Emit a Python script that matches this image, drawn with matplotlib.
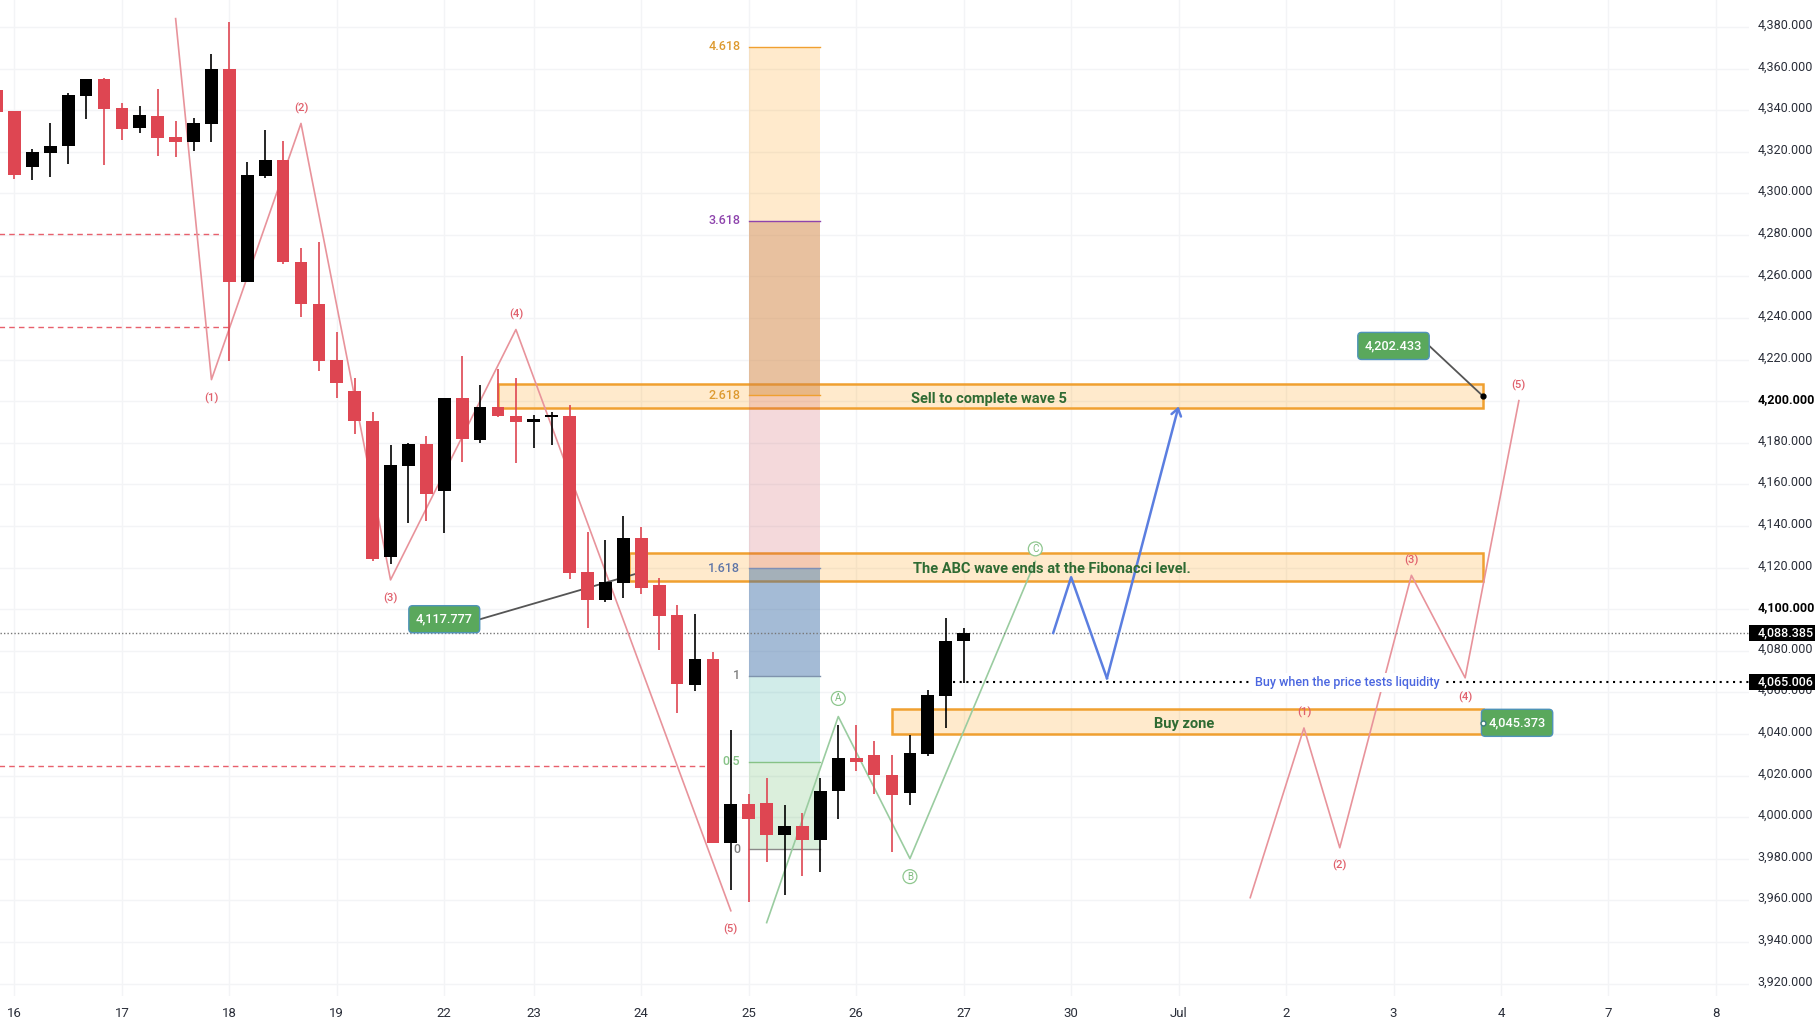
import matplotlib
matplotlib.use('Agg')
import matplotlib.pyplot as plt
from matplotlib.patches import Rectangle
from matplotlib.transforms import ScaledTranslation

plt.rcParams['font.family'] = ['Roboto', 'DejaVu Sans']

# candles, 4h bars (bar 0 is cut by the left edge)
opens = [4349.7, 4339.4, 4312.6, 4319.4, 4322.7, 4346.6, 4354.8, 4340.8, 4331.4, 4337.0,
         4326.9, 4324.6, 4333.3, 4359.6, 4257.3, 4308.3, 4315.8, 4267.2, 4247.0, 4219.7,
         4204.7, 4190.7, 4125.2, 4168.9, 4179.3, 4157.0, 4201.5, 4181.4, 4197.4, 4193.1,
         4190.1, 4192.5, 4193.1, 4118.0, 4104.5, 4112.7, 4134.1, 4111.7, 4097.3, 4063.6,
         4076.1, 3987.6, 4006.5, 4007.0, 3991.5, 3995.9, 3989.1, 4012.5, 4028.7, 4030.1,
         4020.5, 4011.5, 4030.6, 4058.5, 4084.5]
highs = [4351.0, 4339.4, 4321.1, 4333.6, 4348.4, 4355.1, 4355.3, 4343.3, 4341.8, 4350.0,
         4334.6, 4336.0, 4366.8, 4382.6, 4315.2, 4330.3, 4325.0, 4273.6, 4276.7, 4233.2,
         4211.1, 4194.7, 4179.0, 4180.0, 4183.2, 4201.5, 4221.7, 4207.7, 4215.3, 4211.1,
         4193.6, 4195.0, 4198.4, 4136.9, 4133.2, 4144.7, 4139.3, 4114.9, 4102.1, 4097.8,
         4079.2, 4042.1, 4011.3, 4018.7, 4005.7, 4002.1, 4019.0, 4044.1, 4044.1, 4036.4,
         4030.0, 4039.6, 4061.2, 4095.8, 4091.0]
lows = [4339.1, 4306.7, 4306.4, 4307.8, 4314.1, 4335.6, 4313.6, 4325.6, 4328.8, 4317.9,
        4317.3, 4320.2, 4324.6, 4219.3, 4257.3, 4307.3, 4266.1, 4240.4, 4214.5, 4201.6,
        4184.3, 4123.0, 4121.6, 4141.7, 4142.2, 4136.6, 4170.7, 4180.0, 4192.5, 4170.3,
        4177.6, 4178.8, 4114.4, 4091.0, 4103.5, 4105.3, 4107.2, 4080.4, 4050.3, 4060.7,
        3987.6, 3965.0, 3959.3, 3978.3, 3962.6, 3971.8, 3973.7, 3998.9, 4022.1, 4011.3,
        3983.3, 4005.7, 4029.6, 4043.1, 4064.6]
closes = [4339.1, 4308.8, 4319.7, 4322.6, 4347.1, 4354.8, 4340.5, 4330.9, 4337.5, 4326.6,
          4324.6, 4333.6, 4359.6, 4257.3, 4308.6, 4315.8, 4266.9, 4246.9, 4219.3, 4208.8,
          4190.6, 4124.3, 4169.2, 4179.3, 4155.6, 4201.5, 4181.9, 4197.4, 4192.8, 4190.1,
          4191.7, 4193.6, 4117.6, 4104.5, 4113.1, 4134.1, 4110.3, 4096.8, 4064.1, 4076.1,
          3987.6, 4006.5, 3998.9, 3991.5, 3995.9, 3989.1, 4012.8, 4028.7, 4026.3, 4020.2,
          4010.9, 4031.1, 4058.8, 4084.8, 4088.385]

# axis labels
price_ticks = list(range(3920, 4381, 20))
day_bars = [1, 7, 13, 19, 25, 30, 36, 42, 48, 54, 60, 66, 72, 78, 84, 90, 96]
day_labels = ['16', '17', '18', '19', '22', '23', '24', '25', '26', '27', '30', 'Jul', '2', '3', '4', '7', '8']

# wave drawings (bar, price)
impulse_down_x = [10, 12, 17, 22, 29, 41]
impulse_down_y = [4384.0, 4210.4, 4333.6, 4114.1, 4234.5, 3955.0]
abc_x = [43, 47, 51, 58]
abc_y = [3949.3, 4048.4, 3980.1, 4123.0]
impulse_up_x = [70, 73, 75, 79, 82, 85]
impulse_up_y = [3961.3, 4042.9, 3985.3, 4116.3, 4067.0, 4200.3]
path_x = [59, 60, 62, 66]
path_y = [4088.6, 4115.4, 4066.8, 4197.5]

# fibonacci levels
fib_ratios = ['0', '0.5', '1', '1.618', '2.618', '3.618', '4.618']
fib_prices = [3984.7, 4026.6, 4067.9, 4119.8, 4203.0, 4286.8, 4370.5]

# old lows left as dashed lines
dashed_prices = [4280.5, 4235.8, 4024.7]
dashed_ends = [13, 13, 40]

last_price = 4088.385
liquidity_price = 4065.006

RED = '#de4652'
WAVE_RED = '#e8939b'
WAVE_GREEN = '#9accA0'
ZONE_EDGE = '#f0a030'
TEXT_GREEN = '#2f6b33'

fig = plt.figure(figsize=(18.2, 10.24), dpi=100)
ax = fig.add_axes([0, 24 / 882, 1507 / 1568, 858 / 882])
ax.set_xlim(0.194, 97.86)
ax.set_ylim(3913.95, 4392.95)
for s in ax.spines.values():
    s.set_visible(False)

ax.yaxis.tick_right()
ax.set_yticks(price_ticks)
ax.set_yticklabels([f'{p:,.3f}' for p in price_ticks])
ax.set_xticks(day_bars)
ax.set_xticklabels(day_labels)
ax.tick_params(axis='y', length=0, pad=6, labelsize=9, labelcolor='#2a2e39')
ax.tick_params(axis='x', length=0, pad=8, labelsize=9.5, labelcolor='#2a2e39')
ax.grid(True, color='#f3f4f6', linewidth=1)
ax.set_axisbelow(True)
# price labels sit a little above their grid lines in the reference
lift = ScaledTranslation(0, 2.3 / 72, fig.dpi_scale_trans)
for lab, p in zip(ax.get_yticklabels(), price_ticks):
    lab.set_transform(lab.get_transform() + lift)
    if p in (4100, 4200):
        lab.set_fontweight('bold')
        lab.set_color('black')

# fib box
fib_fills = [('#4caf50', 0.2), ('#009688', 0.18), ('#376aa4', 0.45),
             ('#c8454e', 0.2), ('#d38541', 0.5), ('#ff9800', 0.2)]
fib_lines = ['#8a8a8a', '#86c286', '#7f93ad', '#7f8fb5', '#f0a030', '#8e44ad', '#f0a030']
fib_text = ['#808080', '#86c286', '#808080', '#5f76a8', '#dd9a30', '#8e44ad', '#dd9a30']
for j in range(6):
    c, a = fib_fills[j]
    ax.fill_between([42, 46], fib_prices[j], fib_prices[j + 1], color=c, alpha=a, lw=0, zorder=2.5)
for j, (r, p) in enumerate(zip(fib_ratios, fib_prices)):
    ax.plot([42, 46], [p, p], color=fib_lines[j], lw=1, zorder=2.6)
    ax.annotate(r, (42, p), xytext=(-6, 0), textcoords='offset points', ha='right', va='center',
                color=fib_text[j], fontsize=9, fontweight='medium', zorder=2.7)

# zones
zones = [(28, 83, 4196.8, 4208.2), (35.3, 83, 4113.6, 4127.2), (50, 83, 4039.8, 4051.8)]
for x0, x1, y0, y1 in zones:
    ax.add_patch(Rectangle((x0, y0), x1 - x0, y1 - y0, facecolor='#ff9800', alpha=0.2, lw=0, zorder=2))
    ax.add_patch(Rectangle((x0, y0), x1 - x0, y1 - y0, fill=False, edgecolor=ZONE_EDGE, lw=1.8, zorder=2.2))

# horizontal helpers
for p, e in zip(dashed_prices, dashed_ends):
    ax.plot([0, e], [p, p], color='#e8606c', lw=1, ls=(0, (4, 3)), zorder=1.5)
ax.axhline(last_price, color='#777777', lw=1, ls=(0, (1, 1.5)), zorder=4)
ax.plot([53.4, 97.86], [liquidity_price, liquidity_price], color='black', lw=1.5, ls=(0, (1, 2.2)), zorder=4)

# wave lines
ax.plot(impulse_down_x, impulse_down_y, color=WAVE_RED, lw=1.2, zorder=3)
ax.plot(abc_x, abc_y, color=WAVE_GREEN, lw=1.2, zorder=3)
ax.plot(impulse_up_x, impulse_up_y, color=WAVE_RED, lw=1.2, zorder=3)
ax.plot(path_x[:-1], path_y[:-1], color='#5b7ee0', lw=1.8, zorder=5.5)
ax.annotate('', xy=(path_x[-1], path_y[-1]), xytext=(path_x[-2], path_y[-2]), zorder=5.5,
            arrowprops=dict(arrowstyle='->,head_length=0.5,head_width=0.35', color='#5b7ee0', lw=1.8,
                            shrinkA=0, shrinkB=0))

# candles
for i in range(len(opens)):
    col = 'black' if closes[i] >= opens[i] else RED
    ax.vlines(i, lows[i], highs[i], color=col, lw=1.2, zorder=5)
    ax.bar(i, abs(closes[i] - opens[i]), bottom=min(opens[i], closes[i]), width=0.71, color=col, lw=0, zorder=5)

# wave labels
for xs, ys, offs in [(impulse_down_x[1:], impulse_down_y[1:], [-13.5, 11, -13.5, 11, -13]),
                     (impulse_up_x[1:], impulse_up_y[1:], [11, -12.5, 11, -14, 11])]:
    for n, (x, y, o) in enumerate(zip(xs, ys, offs)):
        ax.annotate(f'({n + 1})', (x, y), xytext=(0, o), textcoords='offset points', ha='center', va='center',
                    color='#e0606c', fontsize=8, fontweight='medium', zorder=6)
for lab, x, y, o in [('A', abc_x[1], abc_y[1], 13), ('B', abc_x[2], abc_y[2], -13), ('C', abc_x[3], abc_y[3], 9)]:
    ax.annotate(lab, (x, y), xytext=(0, o), textcoords='offset points', ha='center', va='center',
                color='#7dbb7d', fontsize=7, zorder=6,
                bbox=dict(boxstyle='circle,pad=0.2', fc='white', ec='#8fc78f', lw=0.9))

# zone captions
zone_font = dict(ha='center', va='center', color=TEXT_GREEN, fontsize=10.5, fontweight='bold', zorder=6)
ax.text(55.4, 4201.1, 'Sell to complete wave 5', **zone_font)
ax.text(58.9, 4119.5, 'The ABC wave ends at the Fibonacci level.', **zone_font)
ax.text(66.3, 4044.6, 'Buy zone', **zone_font)
ax.text(75.4, 4064.6, 'Buy when the price tests liquidity', ha='center', va='center', color='#4a66e0',
        fontsize=9, fontweight='medium', zorder=6,
        bbox=dict(boxstyle='square,pad=0.25', fc='white', ec='none'))

# callouts: box centre, line start, line end, text
callouts = [(25, 4095.2, 27, 4095.2, 36, 4117.777, '4,117.777'),
            (78, 4226.6, 80, 4226.6, 83, 4202.433, '4,202.433'),
            (84.9, 4045.373, 84, 4045.373, 83, 4045.373, '4,045.373')]
for bx, by, sx, sy, tx, ty, lab in callouts:
    ax.plot([sx, tx], [sy, ty], color='#555555', lw=1.3, zorder=4.5)
    ax.text(bx, by, lab, ha='center', va='center', color='white', fontsize=9.2, fontweight='medium', zorder=7,
            bbox=dict(boxstyle='round,pad=0.55,rounding_size=0.3', fc='#5aa85c', ec='#4f93b8', lw=1))
ax.plot(83, 4202.433, 'o', color='black', ms=3.5, zorder=7)
ax.plot(83, 4045.373, 'o', mfc='white', mec='#3f7f7f', ms=3.5, zorder=8)

# last price tags on the axis
for v in (last_price, liquidity_price):
    ax.add_patch(Rectangle((1.0, v - 3.9), 0.0378, 7.8, transform=ax.get_yaxis_transform(),
                           facecolor='black', lw=0, clip_on=False, zorder=10))
    ax.annotate(f'{v:,.3f}', (1.0, v), xycoords=ax.get_yaxis_transform(), xytext=(6, 0), textcoords='offset points',
                color='white', fontsize=9, fontweight='medium', va='center', ha='left', zorder=11,
                annotation_clip=False)

fig.savefig('out.png', dpi=100, facecolor='white')
